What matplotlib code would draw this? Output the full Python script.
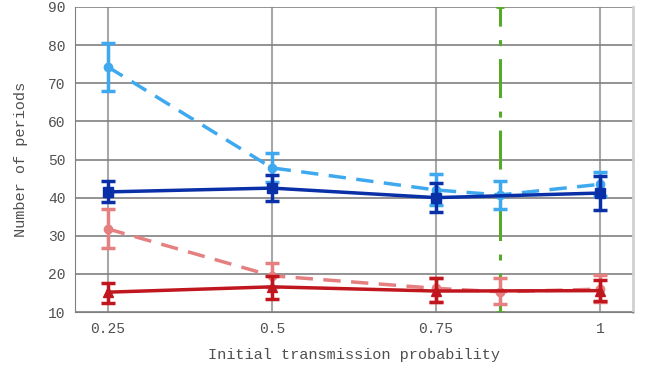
import matplotlib
matplotlib.use("Agg")
import matplotlib.pyplot as plt
import numpy as np

plt.rcParams['font.family'] = ['Liberation Mono', 'DejaVu Sans Mono']

# Initial transmission probabilities
x_main = [0.25, 0.5, 0.75, 1.0]
x_ext = [0.25, 0.5, 0.75, 0.847, 1.0]

# Dark blue series (solid, squares)
blue_y = [41.5, 42.5, 40.0, 41.2]
blue_lo = [38.9, 39.1, 36.2, 36.8]
blue_hi = [44.4, 45.9, 43.8, 45.7]

# Light blue series (dashed, circles)
lblue_y = [74.3, 47.8, 42.0, 40.7, 43.5]
lblue_lo = [68.0, 44.0, 38.1, 37.0, 40.5]
lblue_hi = [80.6, 51.7, 46.3, 44.4, 46.7]

# Dark red series (solid, triangles)
red_y = [15.2, 16.6, 15.5, 15.6]
red_lo = [12.4, 13.4, 12.5, 12.9]
red_hi = [17.6, 19.4, 18.9, 18.4]

# Pink series (dashed, circles)
pink_y = [31.8, 19.5, 16.2, 15.3, 16.0]
pink_lo = [26.8, 16.5, 12.6, 12.1, 12.6]
pink_hi = [37.0, 22.8, 18.9, 18.9, 19.7]

# Green reference (dash-dot)
green_x = [0.847]
green_y = [50.0]
green_lo = [10.0]
green_hi = [90.0]

fig = plt.figure(figsize=(6.51, 3.70), dpi=100)
ax = fig.add_axes([75/651, 58/370, 558/651, 305/370])

ax.set_xlim(0.2, 1.05)
ax.set_ylim(10, 90)
ax.set_xticks([0.25, 0.5, 0.75, 1.0])
ax.set_xticklabels(['0.25', '0.5', '0.75', '1'])
ax.set_yticks(np.arange(10, 91, 10))

ax.grid(axis='y', color='#808080', lw=1.2, zorder=0)
ax.grid(axis='x', color='#a8a8a8', lw=1.5, zorder=0)
ax.spines['top'].set_visible(False)
ax.spines['left'].set_color('#808080')
ax.spines['bottom'].set_color('#808080')
ax.spines['right'].set_color('#d0d0d0')
ax.spines['right'].set_linewidth(2)
ax.tick_params(axis='both', length=0, labelsize=10.5, labelcolor='#505050', pad=7)


def err(y, lo, hi):
    y = np.asarray(y)
    return [y - np.asarray(lo), np.asarray(hi) - y]


# green vertical
g = ax.errorbar(green_x, green_y, yerr=err(green_y, green_lo, green_hi), fmt='none',
                ecolor='#55aa2a', elinewidth=2.2, capsize=3, capthick=2, zorder=2)
g.lines[2][0].set_linestyle((0, (12.76, 4.25, 1.96, 4.42)))

# light blue dashed
ax.errorbar(x_ext, lblue_y, yerr=err(lblue_y, lblue_lo, lblue_hi), color='#3fa9f0',
            lw=2.5, ls=(0, (5, 3)), marker='o', ms=6, elinewidth=2.5, capsize=5,
            capthick=2.5, zorder=3)
# pink dashed
ax.errorbar(x_ext, pink_y, yerr=err(pink_y, pink_lo, pink_hi), color='#e68080',
            lw=2.5, ls=(0, (5, 3)), marker='o', ms=6, elinewidth=2.5, capsize=5,
            capthick=2.5, zorder=3)
# dark blue solid
ax.errorbar(x_main, blue_y, yerr=err(blue_y, blue_lo, blue_hi), color='#0a30a8',
            lw=2.5, marker='s', ms=6.5, elinewidth=2.5, capsize=5, capthick=2.5, zorder=4)
# dark red solid
ax.errorbar(x_main, red_y, yerr=err(red_y, red_lo, red_hi), color='#c0161e',
            lw=2.5, marker='^', ms=7, elinewidth=2.5, capsize=5, capthick=2.5, zorder=4)

ax.set_xlabel('Initial transmission probability', fontsize=11, color='#505050', labelpad=9)
ax.set_ylabel('Number of periods', fontsize=11, color='#505050', labelpad=14)

fig.savefig('out.png', dpi=100)
